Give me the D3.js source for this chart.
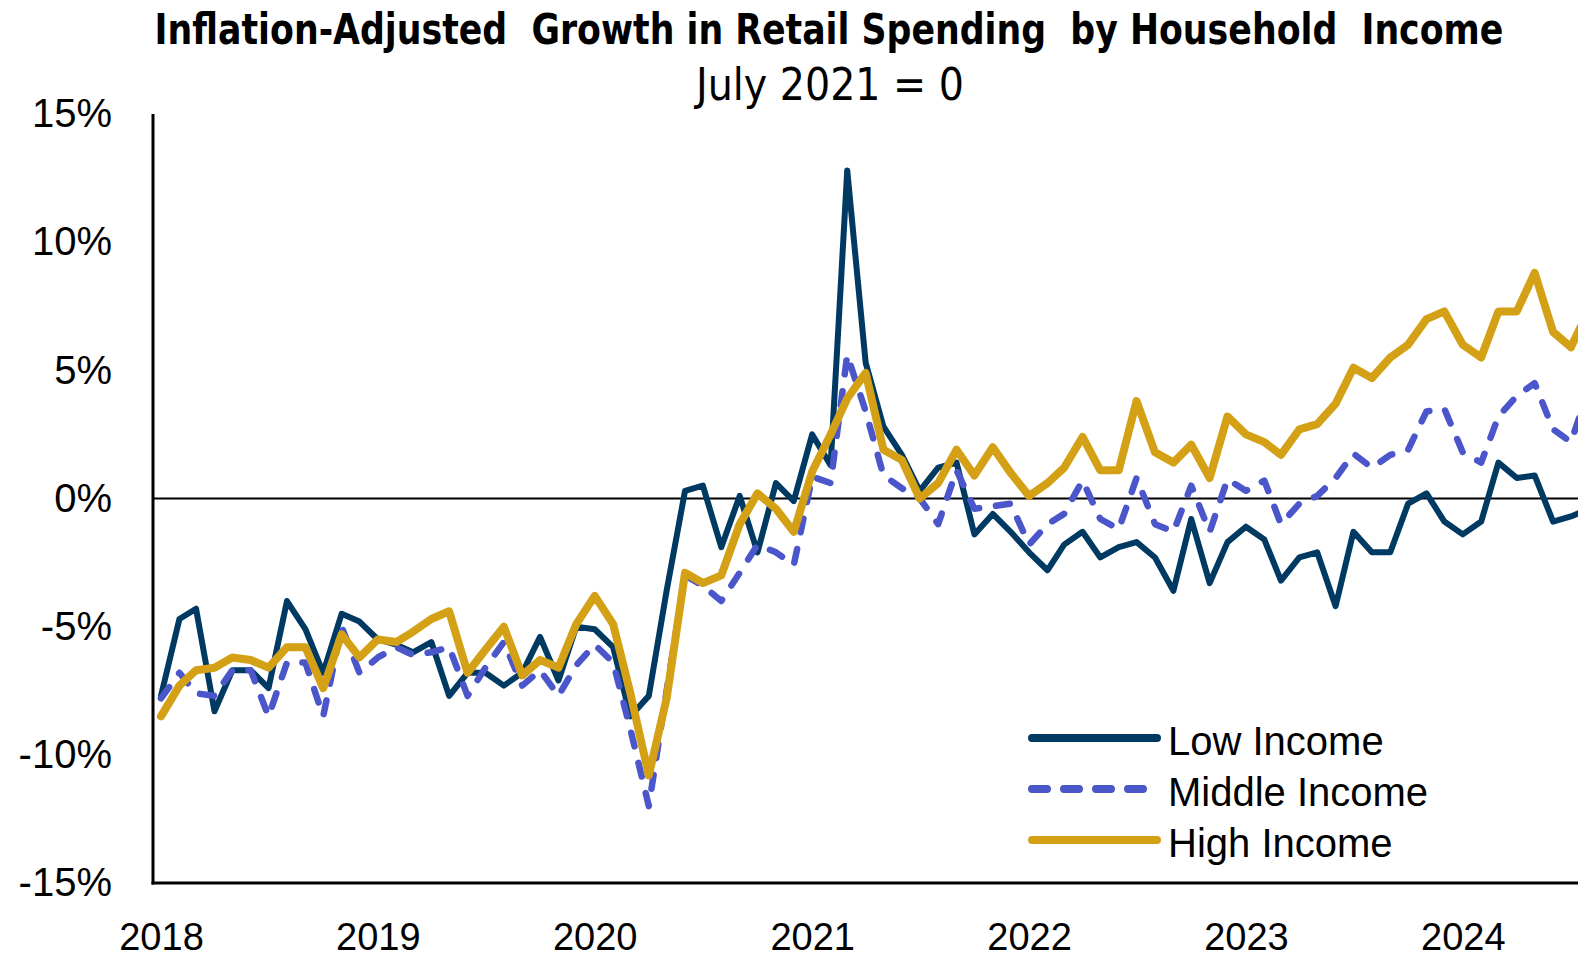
<!DOCTYPE html>
<html>
<head>
<meta charset="utf-8">
<script src="https://cdn.jsdelivr.net/npm/d3@7"></script>
<style>
  body{margin:0;background:#fff;}
  svg{display:block;}
</style>
</head>
<body>
<div id="chart"></div>
<script>
var title = 'Inflation-Adjusted  Growth in Retail Spending  by Household  Income'
var subtitle = 'July 2021 = 0'
var seriesNames = ['Low Income', 'Middle Income', 'High Income']
var yTicks = [-15, -10, -5, 0, 5, 10, 15]
var xTickYears = [2018, 2019, 2020, 2021, 2022, 2023, 2024]

// monthly, Jan 2018 .. Aug 2024, % vs July 2021
var months = d3.timeMonth.range(new Date(2018, 0, 1), new Date(2024, 8, 1))

var lowIncome = [
  -7.7, -4.7, -4.3, -8.3, -6.7, -6.7, -7.4, -4.0, -5.1, -6.8, -4.5, -4.8,
  -5.5, -5.7, -6.0, -5.6, -7.7, -6.8, -6.8, -7.3, -6.8, -5.4, -7.1, -5.0,
  -5.1, -5.8, -8.5, -7.7, -3.6, 0.3, 0.5, -1.9, 0.1, -2.1, 0.6, -0.1,
  2.5, 1.3, 12.8, 5.3, 2.8, 1.7, 0.3, 1.2, 1.4, -1.4, -0.6, -1.3,
  -2.1, -2.8, -1.8, -1.3, -2.3, -1.9, -1.7, -2.3, -3.6, -0.8, -3.3, -1.7,
  -1.1, -1.6, -3.2, -2.3, -2.1, -4.2, -1.3, -2.1, -2.1, -0.2, 0.2, -0.9,
  -1.4, -0.9, 1.4, 0.8, 0.9, -0.9, -0.7, -0.4
]
var middleIncome = [
  -7.8, -6.8, -7.6, -7.7, -6.7, -6.7, -8.5, -6.4, -6.4, -8.5, -5.0, -6.8,
  -6.2, -5.8, -6.1, -6.0, -5.8, -7.7, -6.6, -5.6, -7.3, -6.7, -7.7, -6.5,
  -5.7, -6.4, -9.0, -12.0, -7.5, -3.0, -3.4, -4.0, -2.9, -1.8, -2.1, -2.6,
  0.85, 0.6, 5.6, 3.4, 0.9, 0.4, 0.0, -1.0, 1.1, -0.4, -0.3, -0.2,
  -1.8, -1.0, -0.6, 0.7, -0.8, -1.2, 0.8, -1.0, -1.3, 0.5, -1.3, 0.75,
  0.3, 0.7, -1.0, -0.2, 0.1, 0.8, 1.75, 1.2, 1.7, 1.9, 3.4, 3.5,
  1.8, 1.4, 3.2, 4.0, 4.5, 2.7, 2.2, 4.3
]
var highIncome = [
  -8.5, -7.3, -6.7, -6.6, -6.2, -6.3, -6.6, -5.8, -5.8, -7.4, -5.3, -6.2,
  -5.5, -5.6, -5.2, -4.7, -4.4, -6.8, -5.9, -5.0, -6.9, -6.3, -6.6, -4.9,
  -3.8, -4.9, -7.6, -10.8, -7.8, -2.9, -3.3, -3.0, -1.0, 0.2, -0.4, -1.3,
  1.05, 2.5, 3.9, 4.9, 1.9, 1.5, 0.0, 0.6, 1.9, 0.9, 2.0, 1.0,
  0.1, 0.6, 1.2, 2.4, 1.1, 1.1, 3.8, 1.8, 1.4, 2.1, 0.8, 3.2,
  2.5, 2.2, 1.7, 2.7, 2.9, 3.7, 5.1, 4.7, 5.5, 6.0, 7.0, 7.3,
  6.0, 5.5, 7.3, 7.3, 8.8, 6.5, 5.9, 7.4
]

var colors = ['#003a63', '#4a56c9', '#d4a116']
var widths = [6, 6.5, 8]
var dashes = [null, '14 17', null]

var width = 1578, height = 959
var font = '"Liberation Sans", Arial, sans-serif'
var narrow = '"Liberation Sans Narrow", "DejaVu Sans Condensed", "Arial Narrow", sans-serif'

var svg = d3.select('#chart').append('svg')
  .attr('width', width).attr('height', height)

var x = d3.scaleTime()
  .domain([months[0], months[months.length - 1]])
  .range([161, 161 + 18.08 * (months.length - 1)])
var y = d3.scaleLinear().domain([-15, 15]).range([883, 114])
var left = 153

// title: shrink the font to fit the width, then stretch back to full height
var titleSize = 42, titleWidth = 1349
var titleText = svg.append('text')
  .attr('text-anchor', 'middle')
  .style('white-space', 'pre')
  .style('font-family', narrow).style('font-weight', 'bold').style('font-size', titleSize + 'px')
  .text(title)
var fit = Math.min(1, titleWidth / titleText.node().getComputedTextLength())
titleText.style('font-size', titleSize * fit + 'px')
  .attr('transform', `translate(829,44) scale(1,${1 / fit})`)

svg.append('text')
  .attr('x', 830).attr('y', 100)
  .attr('text-anchor', 'middle')
  .attr('textLength', 268).attr('lengthAdjust', 'spacingAndGlyphs')
  .style('font-family', narrow).style('font-size', '45px')
  .text(subtitle)

// axes
var yAxis = svg.append('g')
  .attr('transform', `translate(${left},0)`)
  .call(d3.axisLeft(y).tickValues(yTicks).tickSize(0).tickPadding(41).tickFormat(d => d + '%'))
yAxis.select('.domain').remove()
yAxis.selectAll('text').style('font-family', font).style('font-size', '40px').attr('fill', '#000')

var xAxis = svg.append('g')
  .attr('transform', `translate(0,${y(-15)})`)
  .call(d3.axisBottom(x).tickValues(xTickYears.map(yr => new Date(yr, 0, 1)))
    .tickSize(0).tickPadding(40).tickFormat(d3.timeFormat('%Y')))
xAxis.select('.domain').remove()
xAxis.selectAll('text').style('font-family', font).style('font-size', '38px').attr('fill', '#000')

svg.append('line')
  .attr('x1', left).attr('x2', width)
  .attr('y1', y(0)).attr('y2', y(0))
  .attr('stroke', '#000').attr('stroke-width', 2.2)

// series
var series = [lowIncome, middleIncome, highIncome]
var line = d3.line()
  .x((d, i) => x(months[i]))
  .y(d => y(d))

svg.append('g').selectAll('path').data(series)
  .enter().append('path')
    .attr('d', d => line(d))
    .attr('fill', 'none')
    .attr('stroke', (d, i) => colors[i])
    .attr('stroke-width', (d, i) => widths[i])
    .attr('stroke-dasharray', (d, i) => dashes[i])
    .attr('stroke-linejoin', 'round')
    .attr('stroke-linecap', 'round')

svg.append('line')
  .attr('x1', left).attr('x2', left)
  .attr('y1', y(15)).attr('y2', y(-15) + 1.5)
  .attr('stroke', '#000').attr('stroke-width', 3)
svg.append('line')
  .attr('x1', left - 1.5).attr('x2', width)
  .attr('y1', y(-15)).attr('y2', y(-15))
  .attr('stroke', '#000').attr('stroke-width', 3)

// legend
var legend = svg.append('g').selectAll('g').data(seriesNames)
  .enter().append('g')
    .attr('transform', (d, i) => `translate(1032,${738 + i * 51})`)
legend.append('line')
  .attr('x1', 0).attr('x2', 125)
  .attr('stroke', (d, i) => colors[i])
  .attr('stroke-width', 8)
  .attr('stroke-linecap', 'round')
  .attr('stroke-dasharray', (d, i) => dashes[i] ? '15 17' : null)
legend.append('text')
  .attr('x', 136).attr('y', 17)
  .style('font-family', font).style('font-size', '40px')
  .text(d => d)
</script>
</body>
</html>
